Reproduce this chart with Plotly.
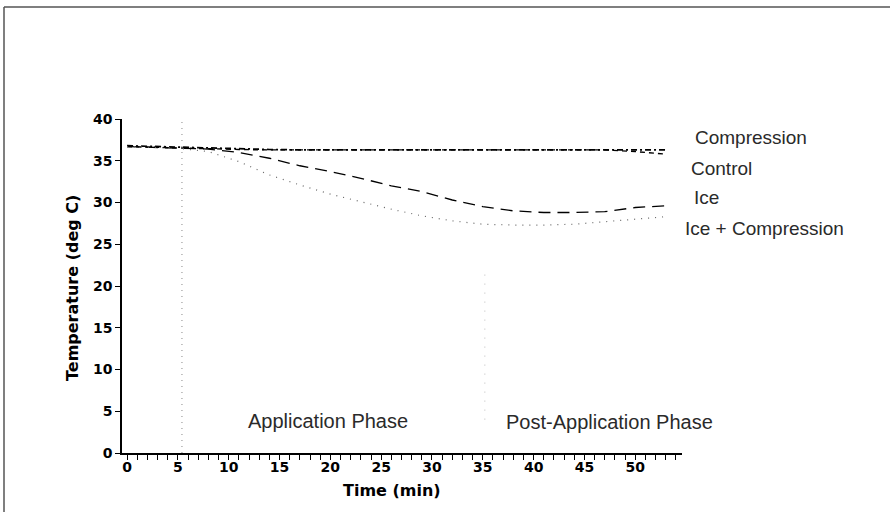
import plotly.graph_objects as go

time_min = [0, 3, 5, 8, 11, 14, 17, 20, 23, 26, 29, 32, 35, 38, 41, 44, 47, 50, 53]
compression = [36.8, 36.7, 36.6, 36.5, 36.4, 36.35, 36.3, 36.3, 36.3, 36.3, 36.3, 36.3, 36.3, 36.3, 36.3, 36.3, 36.3, 36.3, 36.3]
control = [36.7, 36.6, 36.5, 36.4, 36.35, 36.3, 36.3, 36.3, 36.3, 36.3, 36.3, 36.3, 36.3, 36.3, 36.3, 36.3, 36.3, 36.1, 35.8]
ice = [36.7, 36.6, 36.5, 36.4, 36.0, 35.3, 34.4, 33.7, 32.9, 32.0, 31.3, 30.3, 29.5, 29.0, 28.8, 28.8, 28.9, 29.4, 29.6]
ice_comp = [36.7, 36.6, 36.5, 36.1, 34.9, 33.3, 32.1, 31.0, 30.1, 29.2, 28.4, 27.8, 27.4, 27.3, 27.3, 27.4, 27.7, 28.0, 28.3]

series_names = ["Compression", "Control", "Ice", "Ice + Compression"]
x_ticks = [0, 5, 10, 15, 20, 25, 30, 35, 40, 45, 50]
y_ticks = [0, 5, 10, 15, 20, 25, 30, 35, 40]
phase_labels = ["Application Phase", "Post-Application Phase"]
phase_starts = [5.4, 35.2]

fig = go.Figure()
fig.add_trace(go.Scatter(x=time_min, y=compression, mode="lines", name=series_names[0],
                         line=dict(color="black", width=1.7, dash="6px,3px,2px,3px")))
fig.add_trace(go.Scatter(x=time_min, y=control, mode="lines", name=series_names[1],
                         line=dict(color="black", width=1.4, dash="5px,4px")))
fig.add_trace(go.Scatter(x=time_min, y=ice, mode="lines", name=series_names[2],
                         line=dict(color="black", width=1.3, dash="12px,7px")))
fig.add_trace(go.Scatter(x=time_min, y=ice_comp, mode="lines", name=series_names[3],
                         line=dict(color="#666", width=1.2, dash="1px,6px")))

# phase divider lines
fig.add_shape(type="line", x0=phase_starts[0], x1=phase_starts[0], y0=0, y1=40.4,
              xref="x", yref="y", line=dict(color="#888", width=1, dash="1px,5px"))
fig.add_shape(type="line", x0=phase_starts[1], x1=phase_starts[1], y0=4, y1=22,
              xref="x", yref="y", line=dict(color="#bbb", width=1, dash="1px,8px"))

L, R, T, B = 122, 682, 119, 453
W, H = R - L, B - T

def px(x):
    return (x - L) / W

def py(y):
    return (B - y) / H

# frame
fig.add_shape(type="line", xref="paper", yref="paper", x0=px(4), x1=px(890), y0=py(7), y1=py(7),
              line=dict(color="#555", width=1.5))
fig.add_shape(type="line", xref="paper", yref="paper", x0=px(4), x1=px(4), y0=py(7), y1=py(512),
              line=dict(color="#555", width=1.5))

label_font = dict(family="Liberation Sans", size=19, color="#2a2a2a")
phase_font = dict(family="Liberation Sans", size=20, color="#2a2a2a")
right_labels = [(693, 138), (689, 168), (692, 197), (683, 228)]
for name, (lx, ly) in zip(series_names, right_labels):
    fig.add_annotation(text=name, xref="paper", yref="paper", x=px(lx), y=py(ly),
                       xanchor="left", yanchor="middle", showarrow=False, font=label_font)

fig.add_annotation(text=phase_labels[0], xref="paper", yref="paper", x=px(246), y=py(421),
                   xanchor="left", yanchor="middle", showarrow=False, font=phase_font)
fig.add_annotation(text=phase_labels[1], xref="paper", yref="paper", x=px(504), y=py(422),
                   xanchor="left", yanchor="middle", showarrow=False, font=phase_font)

title_font = dict(family="DejaVu Sans", size=16, color="black", weight="bold")
fig.add_annotation(text="Time (min)", xref="paper", yref="paper", x=px(392), y=py(491),
                   xanchor="center", yanchor="middle", showarrow=False, font=title_font)
fig.add_annotation(text="Temperature (deg C)", xref="paper", yref="paper", x=px(72), y=py(288),
                   xanchor="center", yanchor="middle", showarrow=False, textangle=-90, font=title_font)

tick_font = dict(family="DejaVu Sans", size=14, color="black", weight="bold")
fig.update_layout(
    width=890, height=512,
    margin=dict(l=L, r=890 - R, t=T, b=512 - B),
    paper_bgcolor="white", plot_bgcolor="white",
    showlegend=False,
    xaxis=dict(range=[-0.5, 54.6], tickvals=x_ticks, ticktext=[str(v) for v in x_ticks],
               ticks="outside", ticklen=5, tickwidth=1.3, tickcolor="black",
               showline=True, linecolor="black", linewidth=1.5, showgrid=False, zeroline=False,
               tickfont=tick_font, ticklabelstandoff=-5,
               minor=dict(dtick=1, tick0=0, ticks="outside", ticklen=5, tickwidth=1.3, tickcolor="black")),
    yaxis=dict(range=[0, 40], tickvals=y_ticks, ticktext=[str(v) for v in y_ticks],
               ticks="outside", ticklen=5, tickwidth=1.3, tickcolor="black",
               showline=True, linecolor="black", linewidth=1.5, showgrid=False, zeroline=False,
               tickfont=tick_font),
)

fig.write_html("out.html", config={"displayModeBar": False},
               post_script="document.body.style.margin='0';")
